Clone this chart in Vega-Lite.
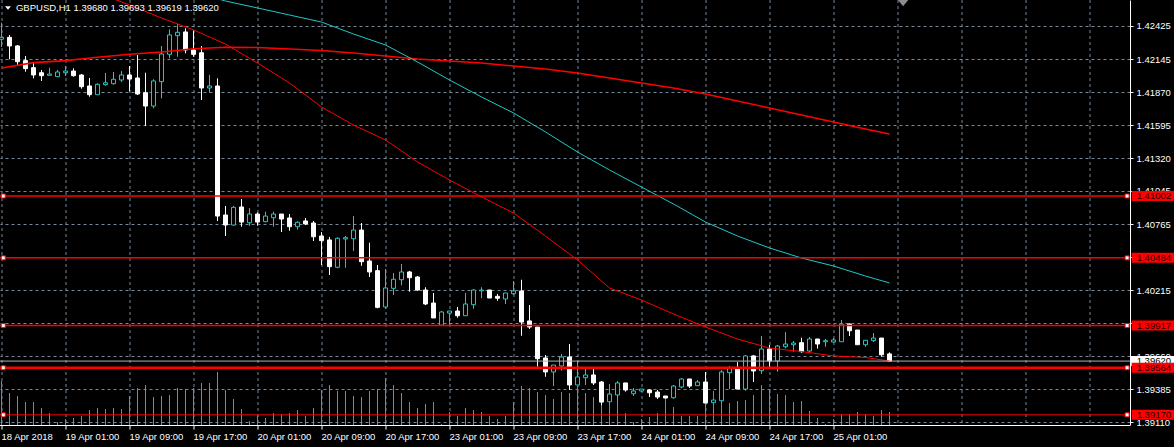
{
  "$schema": "https://vega.github.io/schema/vega-lite/v6.json",
  "width": 1130,
  "height": 425,
  "autosize": {"type": "none"},
  "padding": {"left": 0, "top": 0, "right": 44, "bottom": 22},
  "background": "#000000",
  "config": {"view": {"stroke": null}, "font": "Liberation Sans"},
  "datasets": {
    "bars": [
      {"t":0,"o":1.42314,"h":1.42453,"l":1.42249,"c":1.42330,"v":2200},
      {"t":1,"o":1.42330,"h":1.42350,"l":1.42146,"c":1.42258,"v":1600},
      {"t":2,"o":1.42258,"h":1.42266,"l":1.42099,"c":1.42126,"v":1450},
      {"t":3,"o":1.42135,"h":1.42174,"l":1.42042,"c":1.42068,"v":1150},
      {"t":4,"o":1.42076,"h":1.42118,"l":1.41987,"c":1.42015,"v":1150},
      {"t":5,"o":1.42034,"h":1.42057,"l":1.41965,"c":1.42009,"v":850},
      {"t":6,"o":1.42012,"h":1.42076,"l":1.42012,"c":1.42023,"v":600},
      {"t":7,"o":1.42001,"h":1.42057,"l":1.42001,"c":1.42040,"v":150},
      {"t":8,"o":1.42034,"h":1.42090,"l":1.42006,"c":1.42048,"v":300},
      {"t":9,"o":1.42048,"h":1.42071,"l":1.42001,"c":1.42009,"v":350},
      {"t":10,"o":1.42015,"h":1.42023,"l":1.41900,"c":1.41917,"v":450},
      {"t":11,"o":1.41923,"h":1.41990,"l":1.41833,"c":1.41850,"v":750},
      {"t":12,"o":1.41850,"h":1.41945,"l":1.41847,"c":1.41937,"v":850},
      {"t":13,"o":1.41934,"h":1.42032,"l":1.41925,"c":1.41950,"v":800},
      {"t":14,"o":1.41942,"h":1.42040,"l":1.41934,"c":1.41979,"v":850},
      {"t":15,"o":1.41973,"h":1.42048,"l":1.41956,"c":1.42015,"v":800},
      {"t":16,"o":1.42015,"h":1.42090,"l":1.41878,"c":1.41981,"v":1450},
      {"t":17,"o":1.41990,"h":1.42182,"l":1.41847,"c":1.41856,"v":1850},
      {"t":18,"o":1.41867,"h":1.42034,"l":1.41588,"c":1.41755,"v":2000},
      {"t":19,"o":1.41755,"h":1.41979,"l":1.41736,"c":1.41965,"v":1400},
      {"t":20,"o":1.41959,"h":1.42258,"l":1.41820,"c":1.42191,"v":1450},
      {"t":21,"o":1.42188,"h":1.42397,"l":1.42155,"c":1.42350,"v":1500},
      {"t":22,"o":1.42344,"h":1.42442,"l":1.42168,"c":1.42372,"v":1850},
      {"t":23,"o":1.42375,"h":1.42406,"l":1.42196,"c":1.42224,"v":1800},
      {"t":24,"o":1.42224,"h":1.42386,"l":1.42168,"c":1.42188,"v":1850},
      {"t":25,"o":1.42201,"h":1.42258,"l":1.41806,"c":1.41906,"v":2100},
      {"t":26,"o":1.41906,"h":1.42015,"l":1.41867,"c":1.41923,"v":2100},
      {"t":27,"o":1.41923,"h":1.41987,"l":1.40793,"c":1.40834,"v":2650},
      {"t":28,"o":1.40843,"h":1.40918,"l":1.40667,"c":1.40759,"v":1750},
      {"t":29,"o":1.40759,"h":1.40918,"l":1.40753,"c":1.40907,"v":1300},
      {"t":30,"o":1.40910,"h":1.40977,"l":1.40745,"c":1.40784,"v":800},
      {"t":31,"o":1.40778,"h":1.40901,"l":1.40751,"c":1.40851,"v":200},
      {"t":32,"o":1.40851,"h":1.40865,"l":1.40753,"c":1.40784,"v":500},
      {"t":33,"o":1.40787,"h":1.40871,"l":1.40782,"c":1.40834,"v":350},
      {"t":34,"o":1.40820,"h":1.40871,"l":1.40745,"c":1.40851,"v":600},
      {"t":35,"o":1.40851,"h":1.40851,"l":1.40700,"c":1.40809,"v":550},
      {"t":36,"o":1.40818,"h":1.40851,"l":1.40711,"c":1.40745,"v":600},
      {"t":37,"o":1.40745,"h":1.40790,"l":1.40720,"c":1.40782,"v":750},
      {"t":38,"o":1.40793,"h":1.40818,"l":1.40759,"c":1.40768,"v":450},
      {"t":39,"o":1.40776,"h":1.40793,"l":1.40625,"c":1.40661,"v":850},
      {"t":40,"o":1.40667,"h":1.40700,"l":1.40424,"c":1.40628,"v":1750},
      {"t":41,"o":1.40634,"h":1.40659,"l":1.40341,"c":1.40410,"v":2000},
      {"t":42,"o":1.40405,"h":1.40656,"l":1.40397,"c":1.40648,"v":1700},
      {"t":43,"o":1.40642,"h":1.40667,"l":1.40402,"c":1.40653,"v":1700},
      {"t":44,"o":1.40644,"h":1.40834,"l":1.40541,"c":1.40717,"v":1450},
      {"t":45,"o":1.40717,"h":1.40776,"l":1.40418,"c":1.40452,"v":1400},
      {"t":46,"o":1.40458,"h":1.40611,"l":1.40324,"c":1.40366,"v":1700},
      {"t":47,"o":1.40377,"h":1.40424,"l":1.40062,"c":1.40070,"v":1800},
      {"t":48,"o":1.40073,"h":1.40391,"l":1.40058,"c":1.40232,"v":2350},
      {"t":49,"o":1.40229,"h":1.40357,"l":1.40173,"c":1.40305,"v":2000},
      {"t":50,"o":1.40301,"h":1.40433,"l":1.40254,"c":1.40366,"v":1600},
      {"t":51,"o":1.40366,"h":1.40374,"l":1.40201,"c":1.40318,"v":1150},
      {"t":52,"o":1.40324,"h":1.40332,"l":1.40209,"c":1.40215,"v":850},
      {"t":53,"o":1.40215,"h":1.40238,"l":1.40089,"c":1.40098,"v":1050},
      {"t":54,"o":1.40106,"h":1.40190,"l":1.39981,"c":1.39981,"v":1150},
      {"t":55,"o":1.39920,"h":1.40039,"l":1.39914,"c":1.40031,"v":50},
      {"t":56,"o":1.40022,"h":1.40039,"l":1.39914,"c":1.40039,"v":650},
      {"t":57,"o":1.40039,"h":1.40073,"l":1.39983,"c":1.40000,"v":450},
      {"t":58,"o":1.40000,"h":1.40190,"l":1.40000,"c":1.40098,"v":850},
      {"t":59,"o":1.40092,"h":1.40223,"l":1.40058,"c":1.40215,"v":750},
      {"t":60,"o":1.40208,"h":1.40238,"l":1.40146,"c":1.40215,"v":650},
      {"t":61,"o":1.40215,"h":1.40215,"l":1.40148,"c":1.40148,"v":450},
      {"t":62,"o":1.40162,"h":1.40182,"l":1.40125,"c":1.40146,"v":300},
      {"t":63,"o":1.40140,"h":1.40190,"l":1.40098,"c":1.40190,"v":450},
      {"t":64,"o":1.40184,"h":1.40290,"l":1.40173,"c":1.40207,"v":1150},
      {"t":65,"o":1.40207,"h":1.40301,"l":1.39832,"c":1.39947,"v":1950},
      {"t":66,"o":1.39956,"h":1.40089,"l":1.39889,"c":1.39905,"v":1850},
      {"t":67,"o":1.39905,"h":1.39905,"l":1.39573,"c":1.39640,"v":1650},
      {"t":68,"o":1.39646,"h":1.39671,"l":1.39489,"c":1.39529,"v":1500},
      {"t":69,"o":1.39529,"h":1.39587,"l":1.39411,"c":1.39587,"v":1300},
      {"t":70,"o":1.39579,"h":1.39679,"l":1.39540,"c":1.39654,"v":1650},
      {"t":71,"o":1.39654,"h":1.39763,"l":1.39378,"c":1.39420,"v":1600},
      {"t":72,"o":1.39420,"h":1.39621,"l":1.39420,"c":1.39487,"v":1950},
      {"t":73,"o":1.39481,"h":1.39554,"l":1.39420,"c":1.39504,"v":1600},
      {"t":74,"o":1.39504,"h":1.39554,"l":1.39420,"c":1.39437,"v":1400},
      {"t":75,"o":1.39445,"h":1.39453,"l":1.39250,"c":1.39277,"v":1050},
      {"t":76,"o":1.39280,"h":1.39428,"l":1.39252,"c":1.39344,"v":1650},
      {"t":77,"o":1.39336,"h":1.39453,"l":1.39269,"c":1.39437,"v":1100},
      {"t":78,"o":1.39437,"h":1.39437,"l":1.39364,"c":1.39378,"v":600},
      {"t":79,"o":1.39347,"h":1.39395,"l":1.39328,"c":1.39370,"v":150},
      {"t":80,"o":1.39370,"h":1.39386,"l":1.39361,"c":1.39386,"v":300},
      {"t":81,"o":1.39378,"h":1.39386,"l":1.39319,"c":1.39355,"v":400},
      {"t":82,"o":1.39361,"h":1.39378,"l":1.39303,"c":1.39319,"v":600},
      {"t":83,"o":1.39328,"h":1.39328,"l":1.39311,"c":1.39311,"v":1350},
      {"t":84,"o":1.39313,"h":1.39420,"l":1.39305,"c":1.39411,"v":900},
      {"t":85,"o":1.39403,"h":1.39478,"l":1.39392,"c":1.39470,"v":450},
      {"t":86,"o":1.39470,"h":1.39470,"l":1.39395,"c":1.39411,"v":450},
      {"t":87,"o":1.39414,"h":1.39462,"l":1.39414,"c":1.39445,"v":450},
      {"t":88,"o":1.39445,"h":1.39529,"l":1.39269,"c":1.39269,"v":1150},
      {"t":89,"o":1.39272,"h":1.39294,"l":1.39272,"c":1.39294,"v":1700},
      {"t":90,"o":1.39288,"h":1.39545,"l":1.39288,"c":1.39529,"v":1600},
      {"t":91,"o":1.39523,"h":1.39579,"l":1.39386,"c":1.39562,"v":1100},
      {"t":92,"o":1.39562,"h":1.39612,"l":1.39386,"c":1.39386,"v":1200},
      {"t":93,"o":1.39386,"h":1.39671,"l":1.39372,"c":1.39663,"v":1250},
      {"t":94,"o":1.39663,"h":1.39671,"l":1.39445,"c":1.39537,"v":1500},
      {"t":95,"o":1.39540,"h":1.39830,"l":1.39512,"c":1.39721,"v":2000},
      {"t":96,"o":1.39721,"h":1.39755,"l":1.39573,"c":1.39621,"v":1750},
      {"t":97,"o":1.39621,"h":1.39755,"l":1.39531,"c":1.39746,"v":1550},
      {"t":98,"o":1.39740,"h":1.39863,"l":1.39727,"c":1.39763,"v":1500},
      {"t":99,"o":1.39757,"h":1.39788,"l":1.39699,"c":1.39771,"v":1150},
      {"t":100,"o":1.39774,"h":1.39816,"l":1.39690,"c":1.39699,"v":1200},
      {"t":101,"o":1.39704,"h":1.39822,"l":1.39699,"c":1.39805,"v":700},
      {"t":102,"o":1.39805,"h":1.39805,"l":1.39724,"c":1.39763,"v":350},
      {"t":103,"o":1.39782,"h":1.39805,"l":1.39740,"c":1.39791,"v":50},
      {"t":104,"o":1.39780,"h":1.39813,"l":1.39774,"c":1.39797,"v":300},
      {"t":105,"o":1.39782,"h":1.39964,"l":1.39780,"c":1.39930,"v":550},
      {"t":106,"o":1.39930,"h":1.39936,"l":1.39830,"c":1.39874,"v":550},
      {"t":107,"o":1.39880,"h":1.39880,"l":1.39757,"c":1.39757,"v":650},
      {"t":108,"o":1.39757,"h":1.39797,"l":1.39740,"c":1.39794,"v":550},
      {"t":109,"o":1.39791,"h":1.39855,"l":1.39780,"c":1.39813,"v":450},
      {"t":110,"o":1.39813,"h":1.39813,"l":1.39657,"c":1.39673,"v":750},
      {"t":111,"o":1.39680,"h":1.39693,"l":1.39619,"c":1.39620,"v":650}
    ],
    "ma": [
      {"t":0,"slow":1.42073},
      {"t":4,"slow":1.42118},
      {"t":8,"slow":1.42135},
      {"t":12,"slow":1.42163},
      {"t":14,"fast":1.42651},
      {"t":16,"slow":1.42188,"fast":1.42601},
      {"t":20,"slow":1.42207,"fast":1.42492},
      {"t":24,"slow":1.42235,"fast":1.42392,"cyan":1.42710},
      {"t":28,"slow":1.42247,"fast":1.42274,"cyan":1.42634},
      {"t":32,"slow":1.42245,"fast":1.42115,"cyan":1.42576},
      {"t":36,"slow":1.42232,"fast":1.41948,"cyan":1.42517},
      {"t":40,"slow":1.42220,"fast":1.41747,"cyan":1.42458},
      {"t":44,"slow":1.42199,"fast":1.41596,"cyan":1.42358},
      {"t":48,"slow":1.42174,"fast":1.41471,"cyan":1.42266},
      {"t":52,"slow":1.42149,"fast":1.41287,"cyan":1.42124},
      {"t":56,"slow":1.42132,"fast":1.41136,"cyan":1.41973},
      {"t":60,"slow":1.42115,"fast":1.40994,"cyan":1.41831},
      {"t":64,"slow":1.42090,"fast":1.40860,"cyan":1.41697},
      {"t":68,"slow":1.42065,"fast":1.40667,"cyan":1.41538},
      {"t":72,"slow":1.42032,"fast":1.40466,"cyan":1.41370},
      {"t":76,"slow":1.41990,"fast":1.40232,"cyan":1.41220},
      {"t":80,"slow":1.41948,"fast":1.40131,"cyan":1.41077},
      {"t":84,"slow":1.41906,"fast":1.40014,"cyan":1.40935},
      {"t":88,"slow":1.41856,"fast":1.39905,"cyan":1.40784},
      {"t":92,"slow":1.41797,"fast":1.39805,"cyan":1.40667},
      {"t":96,"slow":1.41739,"fast":1.39729,"cyan":1.40567},
      {"t":100,"slow":1.41680,"fast":1.39700,"cyan":1.40483},
      {"t":104,"slow":1.41621,"fast":1.39663,"cyan":1.40416},
      {"t":108,"slow":1.41563,"fast":1.39650,"cyan":1.40332},
      {"t":111,"slow":1.41521,"fast":1.39621,"cyan":1.40274}
    ],
    "levels": [
      {"p":1.41002},
      {"p":1.40484},
      {"p":1.39917},
      {"p":1.39564},
      {"p":1.39170}
    ]
  },
  "layer": [
    {
      "data": {"name": "bars"},
      "mark": {"type": "rule", "color": "#3cb846", "strokeWidth": 1},
      "encoding": {
        "x": {
          "field": "t", "type": "quantitative",
          "scale": {"domain": [-0.1875, 141.0625], "nice": false, "zero": false, "padding": 0},
          "axis": {
            "values": [0,4,8,12,16,20,24,28,32,36,40,44,48,52,56,60,64,68,72,76,80,84,88,92,96,100,104,108,112,116,120,124,128,132,136,140],
            "orient": "bottom", "title": null, "translate": 0, "offset": 0.5,
            "grid": true, "gridColor": "#778899", "gridDash": [3, 3], "gridWidth": 1,
            "domainColor": "#ffffff", "domainWidth": 1,
            "tickColor": "#ffffff", "tickSize": 4, "tickWidth": 1,
            "tickOpacity": {"condition": {"test": "datum.value % 8 === 0 && datum.value <= 104", "value": 1}, "value": 0},
            "labelExpr": "datum.value % 8 === 0 && datum.value <= 104 ? ['18 Apr 2018','19 Apr 01:00','19 Apr 09:00','19 Apr 17:00','20 Apr 01:00','20 Apr 09:00','20 Apr 17:00','23 Apr 01:00','23 Apr 09:00','23 Apr 17:00','24 Apr 01:00','24 Apr 09:00','24 Apr 17:00','25 Apr 01:00'][datum.value / 8] : ''",
            "labelAlign": "left", "labelBaseline": "top", "labelPadding": 2,
            "labelColor": "#ffffff", "labelFontSize": 9.5,
            "labelOverlap": false, "labelFlush": false, "labelBound": false
          }
        },
        "y": {"field": "v", "type": "quantitative", "scale": {"domain": [0, 21250], "nice": false, "zero": true}, "axis": null},
        "y2": {"datum": 0}
      }
    },
    {
      "data": {"name": "bars"},
      "mark": {"type": "rule", "strokeWidth": 1},
      "encoding": {
        "x": {"field": "t", "type": "quantitative", "scale": {"domain": [-0.1875, 141.0625], "nice": false, "zero": false, "padding": 0}, "axis": {"title": null}},
        "y": {
          "field": "l", "type": "quantitative",
          "scale": {"domain": [1.39085, 1.426426], "nice": false, "zero": false},
          "axis": {
            "orient": "right", "title": null,
            "values": [1.42425, 1.42145, 1.4187, 1.41595, 1.4132, 1.41045, 1.40765, 1.4049, 1.40215, 1.3994, 1.3966, 1.39385, 1.3911],
            "labelExpr": "datum.value === 1.4049 || datum.value === 1.3994 ? '' : format(datum.value, '.5f')",
            "grid": true, "gridColor": "#778899", "gridDash": [3, 3], "gridWidth": 1,
            "domainColor": "#ffffff", "domainWidth": 1,
            "tickColor": "#ffffff", "tickSize": 3,
            "labelColor": "#ffffff", "labelFontSize": 9.5, "labelPadding": 3,
            "labelBaseline": "middle", "labelOverlap": false, "labelFlush": false, "labelBound": false
          }
        },
        "y2": {"field": "h"},
        "color": {"condition": {"test": "datum.c > datum.o", "value": "#1ec8c8"}, "value": "#ffffff"}
      }
    },
    {
      "data": {"name": "bars"},
      "mark": {"type": "bar", "size": 4, "strokeWidth": 1, "orient": "vertical"},
      "encoding": {
        "x": {"field": "t", "type": "quantitative", "scale": {"domain": [-0.1875, 141.0625], "nice": false, "zero": false, "padding": 0}, "axis": {"title": null}},
        "y": {"field": "o", "type": "quantitative", "scale": {"domain": [1.39085, 1.426426], "nice": false, "zero": false}, "axis": null},
        "y2": {"field": "c"},
        "fill": {"condition": {"test": "datum.c > datum.o", "value": "#000000"}, "value": "#ffffff"},
        "stroke": {"condition": {"test": "datum.c > datum.o", "value": "#1ec8c8"}, "value": "#ffffff"}
      }
    },
    {
      "data": {"name": "ma"},
      "mark": {"type": "line", "color": "#ff0000", "strokeWidth": 1.6, "clip": true, "invalid": "filter"},
      "encoding": {
        "x": {"field": "t", "type": "quantitative", "scale": {"domain": [-0.1875, 141.0625], "nice": false, "zero": false, "padding": 0}, "axis": {"title": null}},
        "y": {"field": "slow", "type": "quantitative", "scale": {"domain": [1.39085, 1.426426], "nice": false, "zero": false}, "axis": null}
      }
    },
    {
      "data": {"name": "ma"},
      "mark": {"type": "line", "color": "#ff0000", "strokeWidth": 1, "clip": true, "invalid": "filter"},
      "encoding": {
        "x": {"field": "t", "type": "quantitative", "scale": {"domain": [-0.1875, 141.0625], "nice": false, "zero": false, "padding": 0}, "axis": {"title": null}},
        "y": {"field": "fast", "type": "quantitative", "scale": {"domain": [1.39085, 1.426426], "nice": false, "zero": false}, "axis": null}
      }
    },
    {
      "data": {"name": "ma"},
      "mark": {"type": "line", "color": "#1ec8c8", "strokeWidth": 1, "clip": true, "invalid": "filter"},
      "encoding": {
        "x": {"field": "t", "type": "quantitative", "scale": {"domain": [-0.1875, 141.0625], "nice": false, "zero": false, "padding": 0}, "axis": {"title": null}},
        "y": {"field": "cyan", "type": "quantitative", "scale": {"domain": [1.39085, 1.426426], "nice": false, "zero": false}, "axis": null}
      }
    },
    {
      "data": {"name": "levels"},
      "mark": {"type": "rule", "color": "#ff0000"},
      "encoding": {
        "x": {"datum": -0.1875, "type": "quantitative", "scale": {"domain": [-0.1875, 141.0625], "nice": false, "zero": false, "padding": 0}, "axis": {"title": null}},
        "x2": {"datum": 141.0625},
        "y": {"field": "p", "type": "quantitative", "scale": {"domain": [1.39085, 1.426426], "nice": false, "zero": false}, "axis": null},
        "strokeWidth": {"condition": [{"test": "datum.p === 1.39564", "value": 2.5}, {"test": "datum.p === 1.3917", "value": 1}], "value": 1.5}
      }
    },
    {
      "data": {"values": [{"p": 1.3962}]},
      "mark": {"type": "rule", "color": "#b0b0b0", "strokeWidth": 1},
      "encoding": {
        "x": {"datum": -0.1875, "type": "quantitative", "scale": {"domain": [-0.1875, 141.0625], "nice": false, "zero": false, "padding": 0}, "axis": {"title": null}},
        "x2": {"datum": 141.0625},
        "y": {"field": "p", "type": "quantitative", "scale": {"domain": [1.39085, 1.426426], "nice": false, "zero": false}, "axis": null}
      }
    },
    {
      "data": {"name": "levels"},
      "mark": {"type": "point", "shape": "square", "size": 16, "filled": true, "fill": "#ffffff", "stroke": "#ff0000", "strokeWidth": 1, "opacity": 1},
      "encoding": {
        "x": {"datum": 0.22, "type": "quantitative", "scale": {"domain": [-0.1875, 141.0625], "nice": false, "zero": false, "padding": 0}, "axis": {"title": null}},
        "y": {"field": "p", "type": "quantitative", "scale": {"domain": [1.39085, 1.426426], "nice": false, "zero": false}, "axis": null}
      }
    },
    {
      "data": {"name": "levels"},
      "mark": {"type": "point", "shape": "square", "size": 16, "filled": true, "fill": "#ffffff", "stroke": "#ff0000", "strokeWidth": 1, "opacity": 1},
      "encoding": {
        "x": {"datum": 140.7, "type": "quantitative", "scale": {"domain": [-0.1875, 141.0625], "nice": false, "zero": false, "padding": 0}, "axis": {"title": null}},
        "y": {"field": "p", "type": "quantitative", "scale": {"domain": [1.39085, 1.426426], "nice": false, "zero": false}, "axis": null}
      }
    },
    {
      "data": {"values": [{"p": 1.3962}]},
      "mark": {"type": "rule", "color": "#ffffff", "strokeWidth": 10, "strokeCap": "butt"},
      "encoding": {
        "x": {"datum": 141.0625, "type": "quantitative", "scale": {"domain": [-0.1875, 141.0625], "nice": false, "zero": false, "padding": 0}, "axis": {"title": null}},
        "x2": {"datum": 147},
        "y": {"field": "p", "type": "quantitative", "scale": {"domain": [1.39085, 1.426426], "nice": false, "zero": false}, "axis": null}
      }
    },
    {
      "data": {"values": [{"p": 1.3962}]},
      "mark": {"type": "text", "align": "left", "baseline": "middle", "color": "#000000", "fontSize": 9.5},
      "encoding": {
        "x": {"datum": 141.9, "type": "quantitative", "scale": {"domain": [-0.1875, 141.0625], "nice": false, "zero": false, "padding": 0}, "axis": {"title": null}},
        "y": {"field": "p", "type": "quantitative", "scale": {"domain": [1.39085, 1.426426], "nice": false, "zero": false}, "axis": null},
        "text": {"field": "p", "type": "quantitative", "format": ".5f"}
      }
    },
    {
      "data": {"name": "levels"},
      "mark": {"type": "rule", "color": "#ff0000", "strokeWidth": 10, "strokeCap": "butt"},
      "encoding": {
        "x": {"datum": 141.27, "type": "quantitative", "scale": {"domain": [-0.1875, 141.0625], "nice": false, "zero": false, "padding": 0}, "axis": {"title": null}},
        "x2": {"datum": 147},
        "y": {"field": "p", "type": "quantitative", "scale": {"domain": [1.39085, 1.426426], "nice": false, "zero": false}, "axis": null}
      }
    },
    {
      "data": {"name": "levels"},
      "mark": {"type": "text", "align": "left", "baseline": "middle", "color": "#200000", "fontSize": 9.5},
      "encoding": {
        "x": {"datum": 141.9, "type": "quantitative", "scale": {"domain": [-0.1875, 141.0625], "nice": false, "zero": false, "padding": 0}, "axis": {"title": null}},
        "y": {"field": "p", "type": "quantitative", "scale": {"domain": [1.39085, 1.426426], "nice": false, "zero": false}, "axis": null},
        "text": {"field": "p", "type": "quantitative", "format": ".5f"}
      }
    },
    {
      "data": {"values": [{"label": "GBPUSD,H1  1.39680 1.39693 1.39619 1.39620"}]},
      "mark": {"type": "text", "align": "left", "baseline": "middle", "color": "#ffffff", "fontSize": 9.5},
      "encoding": {
        "x": {"datum": 1.81, "type": "quantitative", "scale": {"domain": [-0.1875, 141.0625], "nice": false, "zero": false, "padding": 0}, "axis": {"title": null}},
        "y": {"datum": 1.42576, "type": "quantitative", "scale": {"domain": [1.39085, 1.426426], "nice": false, "zero": false}, "axis": null},
        "text": {"field": "label"}
      }
    },
    {
      "data": {"values": [{"m": "title"}]},
      "mark": {"type": "point", "shape": "M-1,-0.6L1,-0.6L0,0.6Z", "size": 36, "filled": true, "color": "#ffffff", "opacity": 1},
      "encoding": {
        "x": {"datum": 0.81, "type": "quantitative", "scale": {"domain": [-0.1875, 141.0625], "nice": false, "zero": false, "padding": 0}, "axis": {"title": null}},
        "y": {"datum": 1.42576, "type": "quantitative", "scale": {"domain": [1.39085, 1.426426], "nice": false, "zero": false}, "axis": null}
      }
    },
    {
      "data": {"values": [{"m": "shift"}]},
      "mark": {"type": "point", "shape": "M-1,-0.6L1,-0.6L0,0.6Z", "size": 121, "filled": true, "color": "#8c8c8c", "opacity": 1},
      "encoding": {
        "x": {"datum": 112.7, "type": "quantitative", "scale": {"domain": [-0.1875, 141.0625], "nice": false, "zero": false, "padding": 0}, "axis": {"title": null}},
        "y": {"datum": 1.42618, "type": "quantitative", "scale": {"domain": [1.39085, 1.426426], "nice": false, "zero": false}, "axis": null}
      }
    }
  ],
  "resolve": {"scale": {"y": "independent"}}
}
